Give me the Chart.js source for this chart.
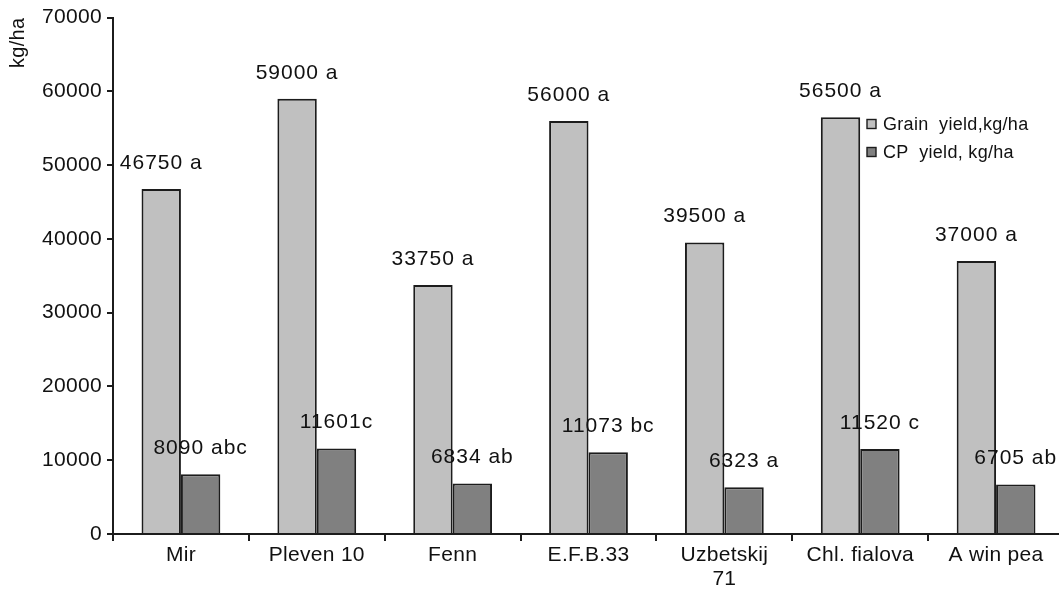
<!DOCTYPE html>
<html lang="en">
<head>
<meta charset="UTF-8">
<title>Grain and CP yield</title>
<script src="https://cdn.jsdelivr.net/npm/chart.js"></script>
<style>
  * { margin: 0; padding: 0; box-sizing: border-box; }
  html, body { background: #fff; overflow: hidden; width: 1059px; height: 594px; }
  canvas { display: block; }
</style>
</head>
<body>
<canvas id="chart" width="1064" height="594"></canvas>
<script>
  // chart data
  const categories = ['Mir', 'Pleven 10', 'Fenn', 'E.F.B.33', ['Uzbetskij', '71'], 'Chl. fialova', 'A win pea'];
  const grainYield = [46750, 59000, 33750, 56000, 39500, 56500, 37000];
  const cpYield = [8090, 11601, 6834, 11073, 6323, 11520, 6705];
  const grainLetters = [' a', ' a', ' a', ' a', ' a', ' a', ' a'];
  const cpLetters = [' abc', 'c', ' ab', ' bc', ' a', ' c', ' ab'];
  const yTicks = [0, 10000, 20000, 30000, 40000, 50000, 60000, 70000];

  const FONT = '"Liberation Sans", Arial, sans-serif';
  const INK = '#111';
  const LINE = '#1c1c1c';

  // text in the original is set a little wide
  const spacing = {
    id: 'spacing',
    beforeDraw(chart) { chart.ctx.letterSpacing = '0.3px'; }
  };

  // value + letter labels above each bar
  const barLabels = {
    id: 'barLabels',
    afterDatasetsDraw(chart) {
      const ctx = chart.ctx;
      const letters = [grainLetters, cpLetters];
      ctx.save();
      ctx.letterSpacing = '1px';
      ctx.font = '21px ' + FONT;
      ctx.fillStyle = INK;
      ctx.textAlign = 'center';
      ctx.textBaseline = 'middle';
      chart.data.datasets.forEach((ds, i) => {
        chart.getDatasetMeta(i).data.forEach((bar, j) => {
          ctx.fillText(ds.data[j] + letters[i][j], bar.x, bar.y - 26);
        });
      });
      ctx.restore();
    }
  };

  // small legend inside the plot, top right
  const boxLegend = {
    id: 'boxLegend',
    afterDraw(chart) {
      const ctx = chart.ctx;
      const names = ['Grain  yield,kg/ha', 'CP  yield, kg/ha'];
      ctx.save();
      ctx.font = '18px ' + FONT;
      ctx.textBaseline = 'middle';
      chart.data.datasets.forEach((ds, i) => {
        const y = 124 + i * 28;
        ctx.fillStyle = ds.backgroundColor;
        ctx.fillRect(867, y - 4.5, 9, 9);
        ctx.strokeStyle = LINE;
        ctx.lineWidth = 1.4;
        ctx.strokeRect(867, y - 4.5, 9, 9);
        ctx.fillStyle = INK;
        ctx.fillText(names[i], 883, y + 1);
      });
      ctx.restore();
    }
  };

  new Chart(document.getElementById('chart'), {
    type: 'bar',
    data: {
      labels: categories,
      datasets: [
        {
          label: 'Grain  yield,kg/ha',
          data: grainYield,
          backgroundColor: '#c0c0c0',
          borderColor: LINE,
          borderWidth: 2,
          categoryPercentage: 0.58,
          barPercentage: 1.0
        },
        {
          label: 'CP  yield, kg/ha',
          data: cpYield,
          backgroundColor: '#808080',
          borderColor: LINE,
          borderWidth: 2,
          categoryPercentage: 0.58,
          barPercentage: 1.0
        }
      ]
    },
    options: {
      responsive: false,
      animation: false,
      layout: { padding: { top: 12, right: 0, bottom: 0, left: 0 } },
      plugins: {
        legend: { display: false },
        tooltip: { enabled: false }
      },
      scales: {
        x: {
          afterFit(scale) { scale.height = 60; },
          grid: { offset: true, drawOnChartArea: false, tickLength: 7, color: LINE, lineWidth: 2 },
          border: { display: true, color: LINE, width: 2 },
          ticks: {
            color: INK,
            font: { family: FONT, size: 21, lineHeight: 1.15 },
            padding: 2,
            maxRotation: 0,
            autoSkip: false
          }
        },
        y: {
          min: 0,
          max: 70000,
          afterFit(scale) { scale.width = 113; },
          afterBuildTicks(scale) { scale.ticks = yTicks.map(v => ({ value: v })); },
          grid: { drawOnChartArea: false, tickLength: 6, color: LINE, lineWidth: 2 },
          border: { display: true, color: LINE, width: 2 },
          ticks: {
            color: INK,
            font: { family: FONT, size: 21 },
            padding: 5,
            callback: v => String(v)
          },
          title: {
            display: true,
            text: 'kg/ha',
            align: 'end',
            color: INK,
            font: { family: FONT, size: 20 },
            padding: { top: 6, bottom: 0 }
          }
        }
      }
    },
    plugins: [spacing, barLabels, boxLegend]
  });
</script>
</body>
</html>
